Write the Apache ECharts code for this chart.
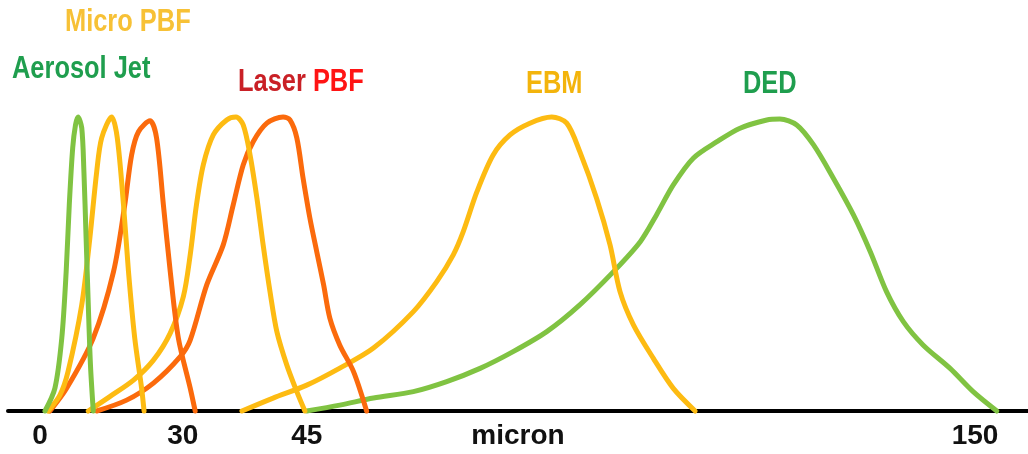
<!DOCTYPE html>
<html>
<head>
<meta charset="utf-8">
<script src="https://cdn.jsdelivr.net/npm/echarts@6/dist/echarts.min.js"></script>
<style>html,body{margin:0;padding:0;background:#fff}#c{width:1028px;height:454px}</style>
</head>
<body>
<div id="c"></div>
<script>
// x: axis position units (tick "0" at 0, tick "150" at 150; picture is not to scale), y: relative height (peak = 100)
const tickValues = [0, 22.9, 42.8, 150];
const tickLabels = ['0', '30', '45', '150'];

const aerosolJet = [[0.8,0],[2.4,7.8],[3.5,24.8],[4.2,47.3],[4.7,70.1],[5.25,89.5],[5.7,97.3],[6.1,100],[6.7,96.3],[7.05,81.3],[7.4,58.8],[7.75,36.1],[8.1,15.6],[8.55,0]];
const microPbfSmall = [[1.3,0],[3.2,5.4],[4.5,13.4],[6.7,36.1],[8.0,58.8],[9.1,81.4],[9.9,92.9],[11.5,100],[12.4,92.9],[13.4,70.1],[14.2,47.4],[15.2,24.8],[16.3,7.8],[16.7,0]];
const laserPbfSmall = [[1.6,0],[4.3,7.8],[8.55,24.8],[11.8,47.4],[13.6,70.1],[14.7,87.1],[15.8,95.0],[17.65,98.7],[18.7,92.9],[19.8,70.1],[20.9,47.4],[22.2,24.8],[24.1,7.8],[24.9,0]];
const microPbfLarge = [[7.75,0],[11.2,4.9],[15.0,10.5],[18.2,17.3],[20.9,26.5],[23.0,38.9],[24.1,53.1],[25.1,70.1],[26.2,83.7],[27.8,93.9],[29.95,99.0],[31.45,100],[32.6,97.3],[33.7,87.1],[34.8,72.4],[35.8,56.5],[36.9,40.6],[38.0,27.0],[39.6,15.6],[41.2,6.6],[42.5,0]];
const laserPbfLarge = [[9.1,0],[13.9,3.7],[18.2,9.5],[22.5,18.5],[24.1,24.1],[26.75,42.9],[29.4,56.5],[31.0,70.1],[32.6,83.7],[34.2,91.6],[36.4,97.9],[39.0,100],[40.1,99.0],[41.2,92.9],[42.2,79.3],[43.3,65.6],[44.4,54.2],[45.5,42.9],[46.5,31.6],[48.1,22.4],[50.3,13.4],[52.4,0]];
const ebm = [[32.4,0],[37.4,4.4],[42.8,8.8],[48.1,14.6],[53.5,21.4],[59.9,33.8],[63.65,44.0],[66.3,53.1],[67.9,61.0],[70.1,74.6],[72.7,87.1],[75.4,93.9],[78.6,97.9],[82.1,100],[84.5,97.9],[86.6,88.2],[89.3,72.3],[91.45,56.5],[93.05,40.6],[95.2,29.3],[98.4,17.9],[101.6,7.7],[105.1,0]];
const ded = [[42.8,0],[48.1,2.0],[53.5,4.4],[59.9,6.6],[65.25,10.0],[70.6,14.5],[75.9,20.2],[81.3,27.0],[86.6,36.1],[92.0,47.4],[96.3,57.6],[98.9,66.7],[101.6,76.9],[104.8,86.0],[108.6,91.6],[112.3,96.2],[116.6,99.0],[118.7,99.3],[121.4,97.3],[124.1,90.5],[127.3,79.1],[130.5,66.7],[133.2,54.2],[135.8,40.6],[138.5,30.4],[141.7,22.4],[146.0,14.5],[149.7,6.6],[153.5,0]];

const GREEN = '#80c342', YELLOW = '#fdbb12', ORANGE = '#fb6a0c';
const FONT = "'Liberation Sans', Arial, sans-serif";

function line(name, data, color) {
  return {
    name, type: 'line', data, smooth: 0.3, symbol: 'none', clip: false,
    lineStyle: { color, width: 5, cap: 'round', join: 'round' }, silent: true
  };
}
function label(text, x, y, fill, rich) {
  const style = { text, fill, font: "bold 31px " + FONT, verticalAlign: 'middle' };
  if (rich) style.rich = rich;
  return { type: 'text', x, y, scaleX: 0.82, style };
}

const chart = echarts.init(document.getElementById('c'));
chart.setOption({
  animation: false,
  backgroundColor: '#fff',
  grid: { left: 8, right: 0, top: 117, bottom: 43, outerBoundsMode: 'none', containLabel: false },
  xAxis: {
    type: 'value', min: -5.13, max: 158.5,
    axisLine: { lineStyle: { color: '#000', width: 4 } },
    axisTick: { show: false },
    splitLine: { show: false },
    axisLabel: {
      customValues: tickValues,
      formatter: function (v) {
        for (let i = 0; i < tickValues.length; i++) if (Math.abs(tickValues[i] - v) < 1e-6) return tickLabels[i];
        return '';
      },
      fontFamily: FONT, fontSize: 28, fontWeight: 'bold', color: '#111', margin: 11
    },
    name: 'micron', nameLocation: 'middle', nameGap: 11, nameMoveOverlap: false,
    nameTextStyle: { fontFamily: FONT, fontSize: 28, fontWeight: 'bold', color: '#111', verticalAlign: 'top' }
  },
  yAxis: { type: 'value', min: 0, max: 100, show: false },
  series: [
    line('DED', ded, GREEN),
    line('EBM', ebm, YELLOW),
    line('Laser PBF', laserPbfLarge, ORANGE),
    line('Micro PBF (large)', microPbfLarge, YELLOW),
    line('Laser PBF (small)', laserPbfSmall, ORANGE),
    line('Micro PBF', microPbfSmall, YELLOW),
    line('Aerosol Jet', aerosolJet, GREEN)
  ],
  graphic: [
    label('Micro PBF', 65, 22, '#f7c136'),
    label('Aerosol Jet', 12, 69, '#1f9e4e'),
    label('{a|Laser} {b|PBF}', 238, 82, '#c92026', {
      a: { fill: '#c92026', font: "bold 31px " + FONT },
      b: { fill: '#ff1414', font: "bold 31px " + FONT }
    }),
    label('EBM', 526, 84, '#f3b40c'),
    label('DED', 743, 84, '#1f9e4e')
  ]
});
</script>
</body>
</html>
